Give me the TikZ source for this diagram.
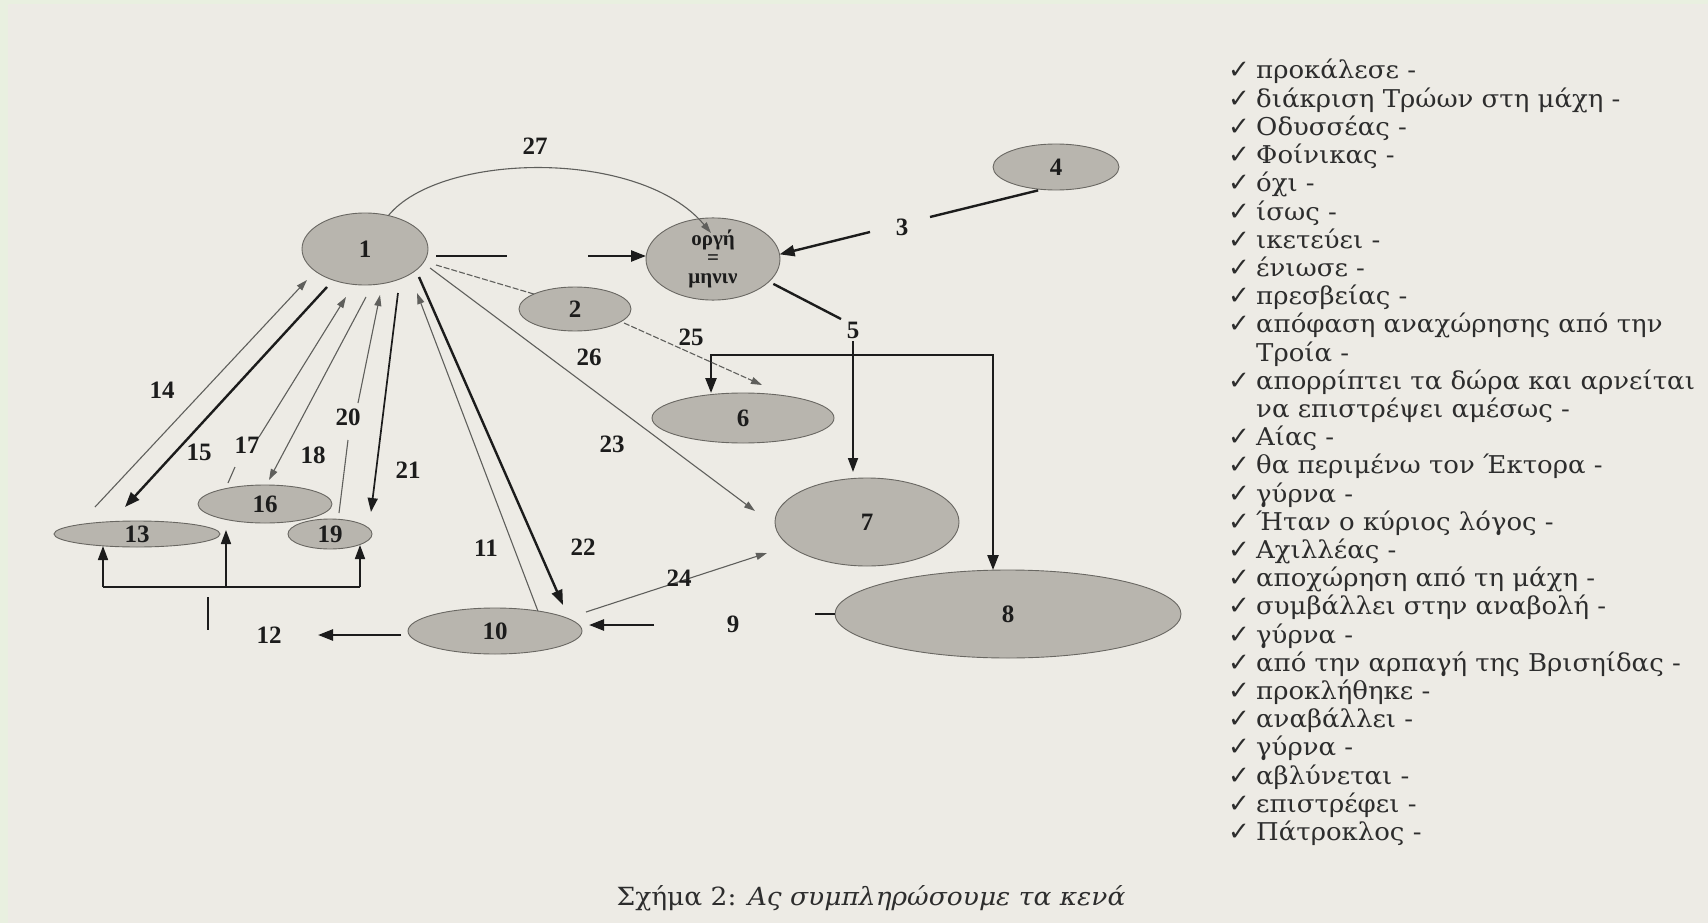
\documentclass[tikz,border=0pt]{standalone}
\usepackage{fontspec}
\setmainfont{DejaVu Serif}[FakeStretch=1.06]
\newfontfamily\numfont{Liberation Serif}
\newfontfamily\chkfont{DejaVu Sans}
\usetikzlibrary{arrows.meta,shapes.geometric,calc}
\definecolor{paper}{RGB}{237,235,229}
\definecolor{frame}{RGB}{233,240,224}
\definecolor{nodefill}{RGB}{184,181,174}
\definecolor{nodeedge}{RGB}{105,103,98}
\definecolor{ink}{RGB}{28,28,28}
\definecolor{thinc}{RGB}{95,95,92}
\definecolor{listink}{RGB}{45,45,45}
\begin{document}
\begin{tikzpicture}[x=1pt,y=-1pt,
  ell/.style={ellipse, draw=nodeedge, fill=nodefill, line width=0.9pt, inner sep=0pt, outer sep=0pt,
    text=ink, font=\numfont\bfseries\fontsize{25}{25}\selectfont},
  lab/.style={inner sep=0pt, text=ink, font=\numfont\bfseries\fontsize{25}{25}\selectfont},
  thickline/.style={line width=2.4pt, draw=ink},
  thickarrow/.style={thickline, -{Triangle[length=15pt,width=11pt]}},
  medline/.style={line width=1.7pt, draw=ink},
  medarrow/.style={medline, -{Triangle[length=14pt,width=10pt]}},
  thinline/.style={line width=1.1pt, draw=thinc},
  thinarrow/.style={thinline, -{Triangle[length=11pt,width=7pt]}},
  dashline/.style={thinline, dash pattern=on 6pt off 2pt},
  dasharrow/.style={dashline, -{Triangle[length=11pt,width=7pt]}},
  chk/.style={anchor=base west, inner sep=0pt, text=listink, font=\chkfont\fontsize{26}{26}\selectfont},
  item/.style={anchor=base west, inner sep=0pt, text=listink, font=\fontsize{24.5}{24.5}\selectfont}
]
\useasboundingbox (0,0) rectangle (1708,923);
\fill[paper] (0,0) rectangle (1708,923);
\fill[frame] (0,0) rectangle (8,923);
\fill[frame] (0,0) rectangle (1708,4);

% nodes
\node[ell, minimum width=126pt, minimum height=72pt] (n1) at (365,249) {1};
\node[ell, minimum width=134pt, minimum height=74pt, align=center,
      font=\numfont\bfseries\fontsize{21}{19}\selectfont] (nor) at (713,259) {οργή\\=\\μηνιν};
\node[ell, minimum width=126pt, minimum height=46pt] (n4) at (1056,167) {4};
\node[ell, minimum width=112pt, minimum height=44pt] (n2) at (575,309) {2};
\node[ell, minimum width=182pt, minimum height=50pt] (n6) at (743,418) {6};
\node[ell, minimum width=184pt, minimum height=88pt] (n7) at (867,522) {7};
\node[ell, minimum width=346pt, minimum height=88pt] (n8) at (1008,614) {8};
\node[ell, minimum width=174pt, minimum height=46pt] (n10) at (495,631) {10};
\node[ell, minimum width=166pt, minimum height=26pt] (n13) at (137,534) {13};
\node[ell, minimum width=134pt, minimum height=38pt] (n16) at (265,504) {16};
\node[ell, minimum width=84pt, minimum height=30pt] (n19) at (330,534) {19};

% free ends and gaps
\coordinate (t27) at (711,233);
\coordinate (g1a) at (507,256);
\coordinate (g1b) at (588,256);
\coordinate (g3a) at (930,217);
\coordinate (g3b) at (870,232);
\coordinate (g5a) at (841,319);
\coordinate (g5b) at (853,341);
\coordinate (t7) at (853,472);
\coordinate (bk6) at (711,355);
\coordinate (bk8) at (993,355);
\coordinate (s12) at (436,265);
\coordinate (s25) at (624,323);
\coordinate (t25) at (762,385);
\coordinate (s23) at (430,268);
\coordinate (t23) at (755,511);
\coordinate (s22) at (419,277);
\coordinate (t22) at (563,605);
\coordinate (t11) at (417,293);
\coordinate (s21) at (398,293);
\coordinate (t21) at (371,512);
\coordinate (s20) at (339,513);
\coordinate (g20a) at (348,440);
\coordinate (g20b) at (358,403);
\coordinate (t20) at (380,295);
\coordinate (s18) at (366,297);
\coordinate (t18) at (269,480);
\coordinate (s17) at (228,483);
\coordinate (g17a) at (235,467);
\coordinate (g17b) at (259,437);
\coordinate (t17) at (346,297);
\coordinate (s15) at (327,287);
\coordinate (t15) at (125,507);
\coordinate (s14) at (95,507);
\coordinate (t14) at (307,280);
\coordinate (s24) at (586,612);
\coordinate (t24) at (767,553);
\coordinate (g9a) at (815,614);
\coordinate (g9b) at (654,625);
\coordinate (t9) at (589,625);
\coordinate (s10) at (401,635);
\coordinate (t12) at (318,635);
\coordinate (st1) at (208,597);
\coordinate (st2) at (208,630);
\coordinate (bkL) at (103,587);
\coordinate (bkM) at (226,587);
\coordinate (bkR) at (360,587);
\coordinate (tL) at (103,546);
\coordinate (tM) at (226,530);
\coordinate (tR) at (360,545);

% connectors
\draw[thinarrow] (n1.55) .. controls (440,152) and (640,148) .. (t27);
\draw[thickline, shorten <=8pt] (n1.east |- g1a) -- (g1a);
\draw[thickarrow] (g1b) -- (nor.west |- g1b);
\draw[thickline, shorten <=4pt] (n4.238) -- (g3a);
\draw[thickarrow] (g3b) -- (nor.4);
\draw[thickline, shorten <=5pt] (nor.-22) -- (g5a);
\draw[medarrow] (g5b) -- (t7);
\draw[thickarrow] (bk8) -- (bk6) -- (bk6 |- n6.north);
\draw[thickarrow] (bk6) -- (bk8) -- (bk8 |- n8.north);
\draw[dashline] (s12) -- (n2.160);
\draw[dasharrow] (s25) -- (t25);
\draw[thinarrow] (s23) -- (t23);
\draw[thickarrow] (s22) -- (t22);
\draw[thinarrow] (n10.25) -- (t11);
\draw[medarrow] (s21) -- (t21);
\draw[thinline] (s20) -- (g20a);
\draw[thinarrow] (g20b) -- (t20);
\draw[thinarrow] (s18) -- (t18);
\draw[thinline] (s17) -- (g17a);
\draw[thinarrow] (g17b) -- (t17);
\draw[thickarrow] (s15) -- (t15);
\draw[thinarrow] (s14) -- (t14);
\draw[thinarrow] (s24) -- (t24);
\draw[medline] (n8.west) -- (g9a);
\draw[thickarrow] (g9b) -- (t9);
\draw[thickarrow] (s10) -- (t12);
\draw[medline] (st1) -- (st2);
\draw[medline] (bkL) -- (bkR);
\draw[medarrow] (bkL) -- (tL);
\draw[medarrow] (bkM) -- (tM);
\draw[medarrow] (bkR) -- (tR);

% connector labels
\node[lab] (l27) at (535,146) {27};
\node[lab] (l3) at (902,227) {3};
\node[lab] (l5) at (853,330) {5};
\node[lab] (l25) at (691,337) {25};
\node[lab] (l26) at (589,357) {26};
\node[lab] (l14) at (162,390) {14};
\node[lab] (l15) at (199,452) {15};
\node[lab] (l17) at (247,445) {17};
\node[lab] (l18) at (313,455) {18};
\node[lab] (l20) at (348,417) {20};
\node[lab] (l21) at (408,470) {21};
\node[lab] (l23) at (612,444) {23};
\node[lab] (l11) at (486,548) {11};
\node[lab] (l22) at (583,547) {22};
\node[lab] (l24) at (679,578) {24};
\node[lab] (l9) at (733,624) {9};
\node[lab] (l12) at (269,635) {12};

% word list
\foreach \k/\t in {0/προκάλεσε -, 1/διάκριση Τρώων στη μάχη -, 2/Οδυσσέας -, 3/Φοίνικας -,
  4/όχι -, 5/ίσως -, 6/ικετεύει -, 7/ένιωσε -, 8/πρεσβείας -, 9/απόφαση αναχώρησης από την,
  11/απορρίπτει τα δώρα και αρνείται, 13/Αίας -, 14/θα περιμένω τον Έκτορα -, 15/γύρνα -,
  16/Ήταν ο κύριος λόγος -, 17/Αχιλλέας -, 18/αποχώρηση από τη μάχη -, 19/συμβάλλει στην αναβολή -,
  20/γύρνα -, 21/από την αρπαγή της Βρισηίδας -, 22/προκλήθηκε -, 23/αναβάλλει -, 24/γύρνα -,
  25/αβλύνεται -, 26/επιστρέφει -, 27/Πάτροκλος -}{
  \node[chk] (c\k) at (1228,{79+28.2*\k}) {✓};
  \node[item] (w\k) at (1256,{79+28.2*\k}) {\t};
}
\node[item] (w10) at (1256,{79+28.2*10}) {Τροία -};
\node[item] (w12) at (1256,{79+28.2*12}) {να επιστρέψει αμέσως -};

% caption
\node[inner sep=0pt, text=listink, font=\fontsize{25}{25}\selectfont] (cap) at (871,898)
  {Σχήμα 2: \textit{Ας συμπληρώσουμε τα κενά}};
\end{tikzpicture}
\end{document}
